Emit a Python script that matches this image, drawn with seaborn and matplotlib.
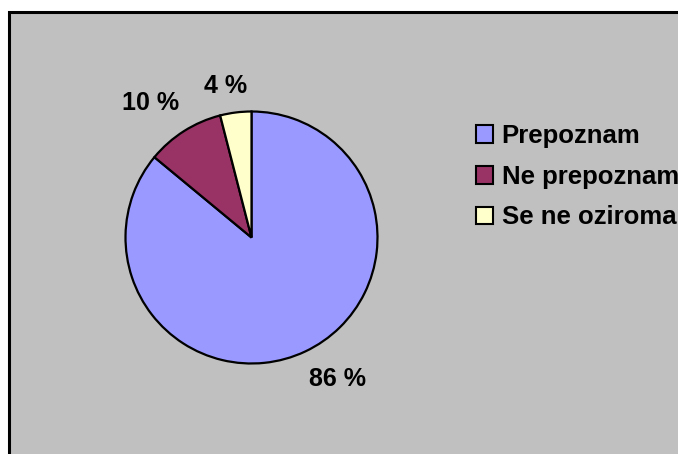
import numpy as np
import matplotlib
matplotlib.use("Agg")
import matplotlib.pyplot as plt
from matplotlib.patches import Rectangle, Patch
import seaborn as sns

# Survey answers and their shares (percent)
categories = ["Prepoznam", "Ne prepoznam", "Se ne oziroma"]
shares = [86, 10, 4]
pct_labels = ["86 %", "10 %", "4 %"]
colors = ["#9999FF", "#993366", "#FFFFCC"]

sns.set_style("white")
plt.rcParams["font.family"] = ["Liberation Sans", "DejaVu Sans"]
plt.rcParams["font.weight"] = "bold"
plt.rcParams["text.color"] = "black"

W, H = 678, 454
fig = plt.figure(figsize=(W / 100, H / 100), dpi=100)
fig.patch.set_facecolor("white")

# Grey chart area with a black frame on the left and top
fig.patches.append(Rectangle((9 / W, -0.05), 1.2, (H - 12) / H + 0.05,
                             transform=fig.transFigure, facecolor="#C0C0C0",
                             edgecolor="black", linewidth=2.2, zorder=-10))

cx, cy, r = 251.5, H - 237.5, 126.0
lim = 1.5
side = 2 * lim * r
ax = fig.add_axes([(cx - side / 2) / W, (cy - side / 2) / H, side / W, side / H])
ax.set_facecolor("none")
ax.set_zorder(5)

wedges, _ = ax.pie(shares, colors=colors, startangle=90, counterclock=False,
                   wedgeprops=dict(edgecolor="black", linewidth=1.6))
ax.set_xlim(-lim, lim)
ax.set_ylim(-lim, lim)
ax.set_aspect("equal")
ax.axis("off")

# Percent labels sit outside the rim: (angle offset from wedge middle in deg, radius factor)
label_place = [(6.0, 1.31), (4.4, 1.335), (2.7, 1.22)]
for w, lab, (dang, d) in zip(wedges, pct_labels, label_place):
    mid = np.deg2rad((w.theta1 + w.theta2) / 2 + dang)
    ax.text(d * np.cos(mid), d * np.sin(mid), lab, ha="center", va="center",
            fontsize=18, fontweight="bold", color="black")

handles = [Patch(facecolor=c, edgecolor="black", linewidth=1.5) for c in colors]
leg = fig.legend(handles, categories, loc="upper left",
                 bbox_to_anchor=(476 / W, (H - 124) / H), frameon=False,
                 prop=dict(weight="bold", size=18.5),
                 handlelength=0.68, handleheight=0.68, handletextpad=0.32,
                 labelspacing=0.65, borderpad=0, borderaxespad=0)
for t in leg.get_texts():
    t.set_color("black")
leg.set_zorder(6)

fig.savefig("out.png", dpi=100, facecolor=fig.get_facecolor())
